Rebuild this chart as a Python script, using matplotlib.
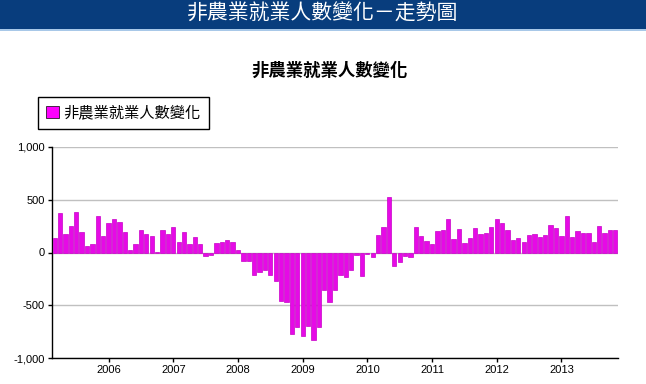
import matplotlib
matplotlib.use("Agg")
import matplotlib.pyplot as plt
from matplotlib.patches import Rectangle
from matplotlib.ticker import FuncFormatter

plt.rcParams['font.family'] = ['Liberation Sans', 'Noto Sans CJK TC']

# monthly change, thousands, Mar 2005 .. Nov 2013
months = []
for y in range(2005, 2014):
    for m in range(1, 13):
        if (y == 2005 and m < 3) or (y == 2013 and m > 11):
            continue
        months.append((y, m))

nfp = [141, 372, 173, 250, 380, 199, 64, 83, 343, 160,                    # 2005
       275, 320, 285, 190, 26, 85, 215, 180, 160, 2, 212, 172,           # 2006
       238, 98, 192, 85, 143, 85, -36, -24, 86, 98, 117, 98,             # 2007
       22, -80, -80, -212, -184, -165, -215, -269, -459, -468, -769, -706,  # 2008
       -791, -696, -829, -706, -354, -468, -354, -212, -228, -165, -22, -222,  # 2009
       -14, -40, 162, 238, 525, -130, -92, -30, -44, 238, 155, 105,      # 2010
       78, 200, 212, 315, 125, 220, 86, 136, 234, 177, 184, 240,         # 2011
       316, 278, 215, 120, 139, 101, 165, 177, 146, 165, 260, 234,       # 2012
       158, 348, 146, 203, 184, 184, 101, 253, 184, 215, 215]            # 2013

year_labels = ['2006', '2007', '2008', '2009', '2010', '2011', '2012', '2013']
series_name = '非農業就業人數變化'
header = '非農業就業人數變化－走勢圖'

fig = plt.figure(figsize=(6.46, 3.84), dpi=100)
fig.patch.set_facecolor('white')

# header banner
fig.patches.append(Rectangle((0, 1 - 29/384.), 1, 29/384., transform=fig.transFigure,
                             facecolor='#083d7d', edgecolor='none', zorder=0))
fig.patches.append(Rectangle((0, 1 - 31/384.), 1, 2/384., transform=fig.transFigure,
                             facecolor='#a8c8e8', edgecolor='none', zorder=0))
fig.text(0.5, 1 - 14/384., header, color='white', fontsize=15, ha='center', va='center')

fig.text(330/646., 1 - 70/384., series_name, fontsize=12.5, fontweight='bold',
         ha='center', va='center')

ax = fig.add_axes([52/646., 1 - 358/384., 566/646., 211/384.])

x = list(range(len(nfp)))
bars = ax.bar(x, nfp, width=0.8, color='#e60ae6', edgecolor='#c800c8', linewidth=0.5,
              label=series_name, zorder=3)

ax.set_xlim(-0.5, len(nfp) - 0.5)
ax.set_ylim(-1000, 1000)
ax.set_yticks([-1000, -500, 0, 500, 1000])
ax.yaxis.set_major_formatter(FuncFormatter(lambda v, p: '{:,.0f}'.format(v)))

jan_idx = [i for i, (y, m) in enumerate(months) if m == 1]
ax.set_xticks(jan_idx)
ax.set_xticklabels(year_labels)

ax.grid(axis='y', color='#c0c0c0', linewidth=1, zorder=0)
for s in ['top', 'right']:
    ax.spines[s].set_visible(False)
ax.spines['left'].set_linewidth(1)
ax.spines['bottom'].set_linewidth(1)
ax.tick_params(axis='both', labelsize=8, length=3, width=1, direction='out', pad=2)

fig.legend(handles=[bars], labels=[series_name], loc='upper left',
           bbox_to_anchor=(38/646., 1 - 97/384.), borderaxespad=0, fancybox=False,
           edgecolor='black', framealpha=1, fontsize=11, handlelength=0.8,
           handleheight=0.8, handletextpad=0.3, borderpad=0.55)
leg = fig.legends[0]
leg.get_frame().set_linewidth(1)
leg.legend_handles[0].set_facecolor('#ff00ff')
leg.legend_handles[0].set_edgecolor('black')

plt.savefig('out.png', dpi=100)
plt.close(fig)
